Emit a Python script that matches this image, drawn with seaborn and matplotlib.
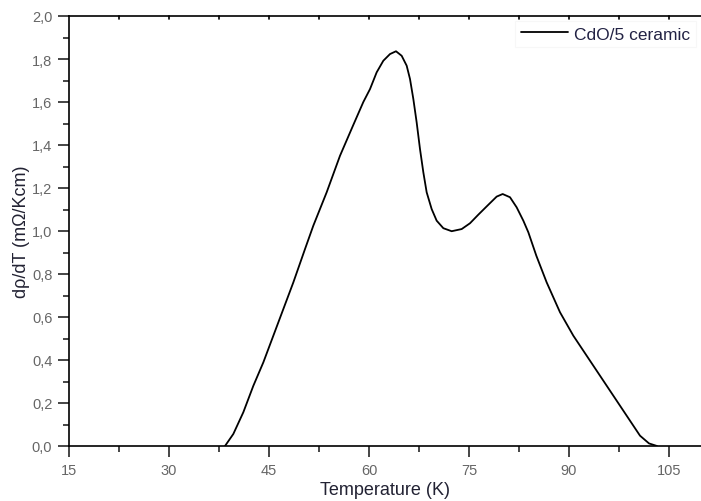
import pandas as pd
import seaborn as sns
import matplotlib.pyplot as plt
from matplotlib.ticker import MultipleLocator, FuncFormatter

# values
temperature = [38.4, 39.65, 41.15, 42.65, 44.15, 45.65, 47.15, 48.65, 50.4, 51.65,
               53.65, 55.65, 57.6, 59.15, 60.15, 61.15, 62.15, 63.15, 64.05, 64.9,
               65.65, 66.15, 66.65, 67.15, 67.65, 68.15, 68.65, 69.4, 70.15, 71.15,
               72.4, 73.9, 75.15, 76.4, 77.9, 79.15, 80.05, 81.15, 82.15, 83.15,
               83.9, 85.1, 86.65, 88.65, 90.65, 92.65, 94.65, 96.65, 98.65, 100.65,
               102.0, 103.2]
drho_dt = [0.0, 0.056, 0.157, 0.28, 0.389, 0.513, 0.637, 0.761, 0.916, 1.025,
           1.18, 1.35, 1.49, 1.60, 1.66, 1.738, 1.792, 1.823, 1.836, 1.815,
           1.769, 1.707, 1.614, 1.505, 1.381, 1.273, 1.18, 1.102, 1.048, 1.013,
           0.999, 1.009, 1.036, 1.076, 1.122, 1.16, 1.172, 1.157, 1.11, 1.048,
           0.994, 0.885, 0.761, 0.622, 0.513, 0.42, 0.327, 0.234, 0.141, 0.048,
           0.012, 0.0]
series_name = "CdO/5 ceramic"

df = pd.DataFrame({"T": temperature, "v": drho_dt, "s": series_name})

sns.set_style("ticks")
plt.rcParams["font.family"] = ["Liberation Sans", "DejaVu Sans"]

fig = plt.figure(figsize=(7.01, 5.02), dpi=100)
ax = fig.add_axes([69 / 701, 55 / 502, 1 - 69 / 701, 430 / 502])

sns.lineplot(data=df, x="T", y="v", hue="s", palette=["black"], linewidth=1.3, ax=ax)

ax.set_xlim(15, 109.8)
ax.set_ylim(0, 2.0)
ax.xaxis.set_major_locator(MultipleLocator(15))
ax.xaxis.set_minor_locator(MultipleLocator(7.5))
ax.yaxis.set_major_locator(MultipleLocator(0.2))
ax.yaxis.set_minor_locator(MultipleLocator(0.1))
ax.yaxis.set_major_formatter(FuncFormatter(lambda v, p: f"{v:.1f}".replace(".", ",")))

for s in ["left", "bottom", "top"]:
    ax.spines[s].set_linewidth(1.2)
    ax.spines[s].set_color("black")
ax.spines["right"].set_visible(False)

ax.tick_params(axis="both", which="major", direction="out", length=8, width=1.2,
               labelsize=10.5, labelcolor="#666666", pad=4)
ax.tick_params(axis="both", which="minor", direction="out", length=4, width=1.2)

# short inward ticks along the top spine
for t in [22.5, 30, 37.5, 45, 52.5, 60, 67.5, 75, 82.5, 90, 97.5, 105]:
    ax.plot([t, t], [2.0, 1.985], color="black", linewidth=1.2, clip_on=False)

ax.set_xlabel("Temperature (K)", fontsize=13, color="#222233", labelpad=3)
ax.set_ylabel("d\u03c1/dT (m\u03a9/Kcm)", fontsize=13, color="#222233", labelpad=1)

leg = ax.legend(loc="upper right", bbox_to_anchor=(1.0, 1.0), fontsize=12.5,
                handlelength=2.7, handletextpad=0.4, frameon=True, fancybox=False,
                borderpad=0.3, borderaxespad=0.3)
leg.get_frame().set_edgecolor("#f6f6f6")
leg.get_frame().set_linewidth(0.8)
for txt in leg.get_texts():
    txt.set_color("#222244")

fig.savefig("out.png", dpi=100)
